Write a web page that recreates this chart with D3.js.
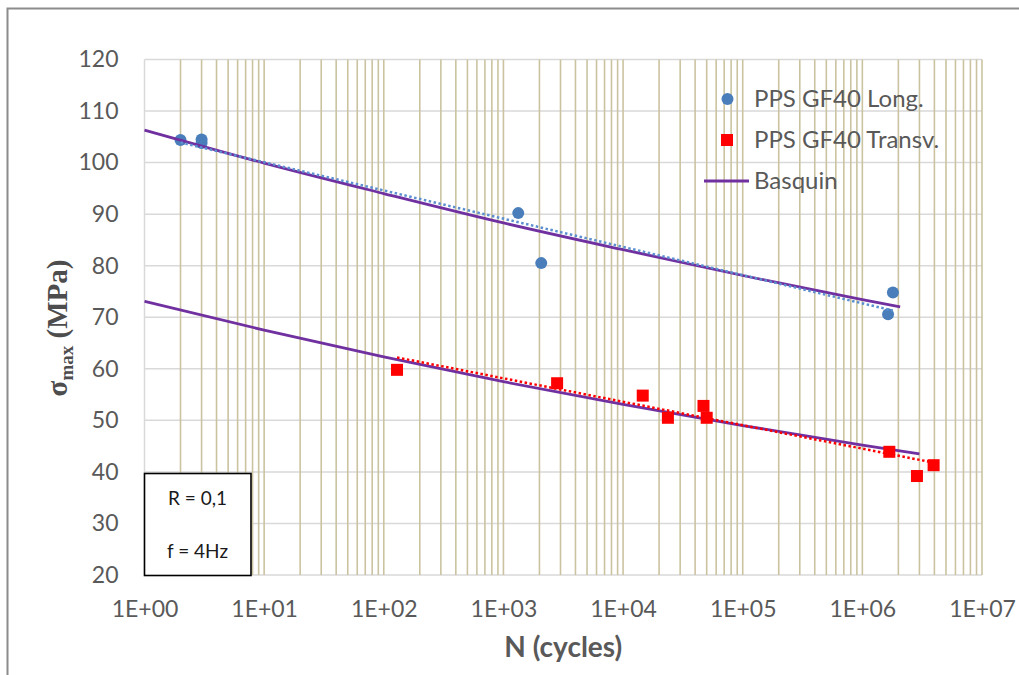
<!DOCTYPE html>
<html><head><meta charset="utf-8">
<script src="https://cdn.jsdelivr.net/npm/d3@7"></script>
<style>
html,body{margin:0;padding:0;background:#fff;}
svg{display:block;}
</style></head>
<body>
<svg id="chart" width="1019" height="675"></svg>
<script>
// ---- data ----
const longN     = [2, 3, 3, 1330, 2070, 1.80e6, 1.64e6];
const longS     = [104.4, 104.5, 103.8, 90.2, 80.5, 74.8, 70.6];
const transvN   = [129, 2810, 1.46e4, 2.37e4, 4.7e4, 5.0e4, 1.68e6, 2.86e6, 3.94e6];
const transvS   = [59.8, 57.2, 54.8, 50.5, 52.8, 50.5, 43.9, 39.2, 41.3];
const basqLongN   = [1, 10, 100, 1e3, 1e4, 1e5, 1e6, 2.07e6];
const basqLongS   = [106.3, 99.9, 94.0, 88.3, 83.1, 78.1, 73.4, 72.0];
const basqTransvN = [1, 10, 100, 1e3, 1e4, 1e5, 1e6, 3.0e6];
const basqTransvS = [73.1, 67.5, 62.3, 57.5, 53.1, 49.0, 45.2, 43.5];
const trendLongN   = [2, 1.80e6];
const trendLongS   = [103.9, 71.3];
const trendTransvN = [129, 3.94e6];
const trendTransvS = [62.2, 41.8];
const xTicks = [1, 10, 100, 1e3, 1e4, 1e5, 1e6, 1e7];
const xTickLabels = ["1E+00","1E+01","1E+02","1E+03","1E+04","1E+05","1E+06","1E+07"];
const yTicks = [20, 30, 40, 50, 60, 70, 80, 90, 100, 110, 120];
const legendLabels = ["PPS GF40 Long.", "PPS GF40 Transv.", "Basquin"];
const noteLines = ["R = 0,1", "f = 4Hz"];

// ---- layout ----
const svg = d3.select("#chart");
const L = 144.5, R = 982, T = 59.5, B = 575;
const x = d3.scaleLog().domain([1, 1e7]).range([L, R]);
const y = d3.scaleLinear().domain([20, 120]).range([B, T]);
const FONT = "Lato, 'Open Sans', sans-serif";
const TXT = "#595959";
const BLUE = "#4a7ebb", RED = "#ff0000", PURPLE = "#7030a0";

// outer frame
svg.append("rect").attr("x", 7.5).attr("y", 8.5).attr("width", 1200).attr("height", 800)
  .attr("fill", "none").attr("stroke", "#8c8c8c").attr("stroke-width", 2);

// horizontal gridlines
svg.append("g").selectAll("line").data(yTicks).join("line")
  .attr("x1", L).attr("x2", R).attr("y1", d => y(d)).attr("y2", d => y(d))
  .attr("stroke", "#d9d9d9").attr("stroke-width", 1.5);

// vertical log gridlines
svg.append("g").selectAll("line").data(x.ticks().filter(d => d > 1)).join("line")
  .attr("x1", d => x(d)).attr("x2", d => x(d)).attr("y1", T).attr("y2", B)
  .attr("stroke", "#cbc3a0").attr("stroke-width", 1.6);
svg.append("line").attr("x1", L).attr("x2", L).attr("y1", T).attr("y2", B)
  .attr("stroke", "#d9d9d9").attr("stroke-width", 1.5);

// axes
const xa = svg.append("g").attr("transform", `translate(0,${B})`)
  .call(d3.axisBottom(x).tickValues(xTicks).tickSize(0).tickPadding(26)
        .tickFormat((d, i) => xTickLabels[i]));
xa.select(".domain").remove();
xa.selectAll("text").attr("font-family", FONT).attr("font-size", 23).attr("fill", TXT);

const ya = svg.append("g").attr("transform", `translate(${L},0)`)
  .call(d3.axisLeft(y).tickValues(yTicks).tickSize(0).tickPadding(26));
ya.select(".domain").remove();
ya.selectAll("text").attr("font-family", FONT).attr("font-size", 23).attr("fill", TXT);

// axis titles
svg.append("text").attr("x", (L + R) / 2).attr("y", 657).attr("text-anchor", "middle")
  .attr("font-family", FONT).attr("font-weight", "bold").attr("font-size", 28).attr("fill", TXT)
  .text("N (cycles)");
const yt = svg.append("text").attr("transform", "translate(67,328) rotate(-90)")
  .attr("text-anchor", "middle").attr("font-family", "'Liberation Serif', 'DejaVu Serif', serif")
  .attr("font-weight", "bold").attr("font-size", 29).attr("fill", "#4d4d4d");
yt.append("tspan").text("σ");
yt.append("tspan").attr("font-size", 19).attr("dy", 6).text("max");
yt.append("tspan").attr("dy", -6).text(" (MPa)");

// markers & lines
const line = d3.line().x(d => x(d[0])).y(d => y(d[1]));
const lineCurve = d3.line().x(d => x(d[0])).y(d => y(d[1])).curve(d3.curveMonotoneX);
const zip = (a, b) => a.map((v, i) => [v, b[i]]);

svg.append("g").selectAll("circle").data(zip(longN, longS)).join("circle")
  .attr("cx", d => x(d[0])).attr("cy", d => y(d[1])).attr("r", 6).attr("fill", BLUE);

svg.append("path").datum(zip(basqLongN, basqLongS)).attr("d", lineCurve)
  .attr("fill", "none").attr("stroke", PURPLE).attr("stroke-width", 2.8);
svg.append("path").datum(zip(basqTransvN, basqTransvS)).attr("d", lineCurve)
  .attr("fill", "none").attr("stroke", PURPLE).attr("stroke-width", 2.8);

svg.append("g").selectAll("rect").data(zip(transvN, transvS)).join("rect")
  .attr("x", d => x(d[0]) - 6).attr("y", d => y(d[1]) - 6).attr("width", 12).attr("height", 12)
  .attr("fill", RED);

svg.append("path").datum(zip(trendLongN, trendLongS)).attr("d", line)
  .attr("fill", "none").attr("stroke", "#5b8fcf").attr("stroke-width", 2.5)
  .attr("stroke-dasharray", "2.5 2.5");
svg.append("path").datum(zip(trendTransvN, trendTransvS)).attr("d", line)
  .attr("fill", "none").attr("stroke", RED).attr("stroke-width", 2.5)
  .attr("stroke-dasharray", "2.5 2.5");

// legend
const lg = svg.append("g");
lg.append("circle").attr("cx", 727.5).attr("cy", 99).attr("r", 6).attr("fill", BLUE);
lg.append("rect").attr("x", 721).attr("y", 134).attr("width", 12).attr("height", 12).attr("fill", RED);
lg.append("line").attr("x1", 704).attr("x2", 749).attr("y1", 181).attr("y2", 181)
  .attr("stroke", PURPLE).attr("stroke-width", 2.8);
lg.selectAll("text").data(legendLabels).join("text")
  .attr("x", 754).attr("y", (d, i) => 107 + i * 41)
  .attr("font-family", FONT).attr("font-size", 24).attr("fill", TXT).text(d => d);

// note box
svg.append("rect").attr("x", 144.5).attr("y", 473.5).attr("width", 106.5).attr("height", 102)
  .attr("fill", "#fff").attr("stroke", "#000").attr("stroke-width", 1.6);
svg.append("g").selectAll("text").data(noteLines).join("text")
  .attr("x", 197.5).attr("y", (d, i) => 505 + i * 53).attr("text-anchor", "middle")
  .attr("font-family", FONT).attr("font-size", 19).attr("fill", "#1a1a1a").text(d => d);
</script>
</body></html>
